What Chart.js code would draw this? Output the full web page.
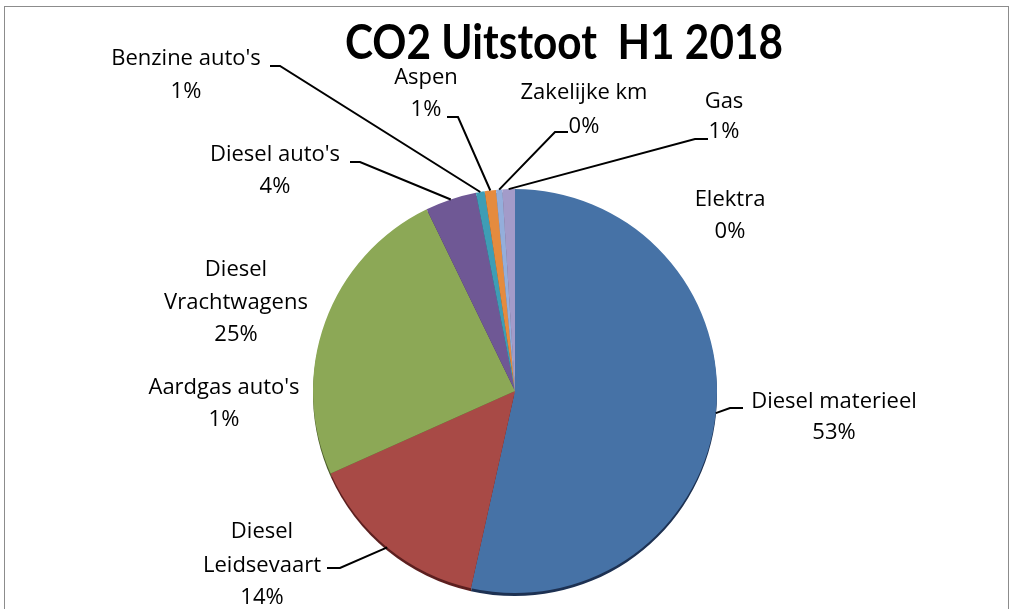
<!DOCTYPE html>
<html lang="nl">
<head>
<meta charset="UTF-8">
<title>CO2 Uitstoot H1 2018</title>
<script src="https://cdn.jsdelivr.net/npm/chart.js@4.4.0/dist/chart.umd.min.js"></script>
<style>
  html, body { margin: 0; padding: 0; background: #fff; }
  #wrap { position: relative; width: 1015px; height: 609px; }
</style>
</head>
<body>
<div id="wrap"><canvas id="pie"></canvas></div>
<script>
// --- data (clockwise from 12 o'clock) ---
const categories = [
  "Diesel materieel", "Diesel Leidsevaart", "Aardgas auto's", "Diesel Vrachtwagens",
  "Diesel auto's", "Benzine auto's", "Aspen", "Zakelijke km", "Gas", "Elektra"
];
const values = [53.5, 14.8, 0, 24.5, 4.1, 0.7, 0.9, 0.5, 1.0, 0];
const pctLabels = ["53%", "14%", "1%", "25%", "4%", "1%", "1%", "0%", "1%", "0%"];
const titleText = "CO2 Uitstoot  H1 2018";

// --- styles ---
const colors = ["#4672a6", "#a84a46", "#7f9bc4", "#8ca856", "#6f5895", "#3e9db5", "#e58b3e", "#94aedb", "#a39bc9", "#c0504d"];
const rimColors = ["#1d3152", "#5c1f1f", "#3b4d6a", "#4b5d2a", "#3a2d52", "#1f5666", "#7a4519", "#4d5f7e", "#56506f", "#602826"];

// label layout: text lines, centre x, line centres y, leader tick [xNear, xFar, y]
const labelLayout = [
  { lines: ["Diesel materieel"], x: 834, ys: [402, 433], tick: [730, 743, 408] },
  { lines: ["Diesel", "Leidsevaart"], x: 262, ys: [532, 566, 598], tick: [340, 327, 568] },
  { lines: ["Aardgas auto's"], x: 224, ys: [388, 420], tick: null },
  { lines: ["Diesel", "Vrachtwagens"], x: 236, ys: [270, 303, 335], tick: null },
  { lines: ["Diesel auto's"], x: 275, ys: [155, 187], tick: [360, 350, 162] },
  { lines: ["Benzine auto's"], x: 186, ys: [59, 92], tick: [280, 270, 66] },
  { lines: ["Aspen"], x: 426, ys: [78, 110], tick: [458, 447, 117] },
  { lines: ["Zakelijke km"], x: 584, ys: [93, 127], tick: [555, 568, 132] },
  { lines: ["Gas"], x: 724, ys: [102, 132], tick: [695, 708, 139] },
  { lines: ["Elektra"], x: 730, ys: [200, 232], tick: null }
];

const LABEL_FONT = "22px 'Open Sans', Lato, sans-serif";
const TITLE_FONT = "bold 47px Lato, 'Open Sans', sans-serif";

const decor = {
  id: "decor",
  beforeDatasetsDraw(chart) {
    // dark rim under the pie to mimic the Excel 3D edge
    const ctx = chart.ctx;
    const arcs = chart.getDatasetMeta(0).data;
    ctx.save();
    arcs.forEach((a, i) => {
      if (a.endAngle - a.startAngle <= 0) return;
      ctx.beginPath();
      ctx.moveTo(a.x, a.y + 3);
      ctx.arc(a.x, a.y + 3, a.outerRadius, a.startAngle, a.endAngle);
      ctx.closePath();
      ctx.fillStyle = rimColors[i];
      ctx.fill();
    });
    ctx.restore();
  },
  afterDraw(chart) {
    const ctx = chart.ctx;
    const arcs = chart.getDatasetMeta(0).data;
    ctx.save();

    // frame
    ctx.strokeStyle = "#8c8c8c";
    ctx.lineWidth = 1;
    ctx.strokeRect(4.5, 6.5, 1004, 700);

    // leader lines
    ctx.strokeStyle = "#000";
    ctx.lineWidth = 2;
    labelLayout.forEach((l, i) => {
      if (!l.tick) return;
      const a = arcs[i];
      const mid = (a.startAngle + a.endAngle) / 2;
      const px = a.x + Math.cos(mid) * a.outerRadius;
      const py = a.y + Math.sin(mid) * a.outerRadius;
      ctx.beginPath();
      ctx.moveTo(px, py);
      ctx.lineTo(l.tick[0], l.tick[2]);
      ctx.lineTo(l.tick[1], l.tick[2]);
      ctx.stroke();
    });

    // data labels
    ctx.fillStyle = "#000";
    ctx.font = LABEL_FONT;
    ctx.textAlign = "center";
    ctx.textBaseline = "middle";
    labelLayout.forEach((l, i) => {
      const lines = [...l.lines, pctLabels[i]];
      lines.forEach((t, k) => ctx.fillText(t, l.x, l.ys[k]));
    });

    // title (narrowed like Calibri)
    ctx.font = TITLE_FONT;
    ctx.textBaseline = "alphabetic";
    const w = ctx.measureText(titleText).width;
    const sx = Math.min(1, 438 / w);
    ctx.translate(564, 59);
    ctx.scale(sx, 1);
    ctx.fillText(titleText, 0, 0);
    ctx.restore();
  }
};

new Chart(document.getElementById("pie"), {
  type: "pie",
  data: {
    labels: categories,
    datasets: [{
      data: values,
      backgroundColor: colors,
      borderWidth: 0
    }]
  },
  options: {
    responsive: true,
    maintainAspectRatio: false,
    animation: false,
    layout: { padding: { left: 100, right: 85, top: 189, bottom: 16 } },
    plugins: {
      legend: { display: false },
      tooltip: { enabled: false },
      title: { display: false }
    }
  },
  plugins: [decor]
});
</script>
</body>
</html>
